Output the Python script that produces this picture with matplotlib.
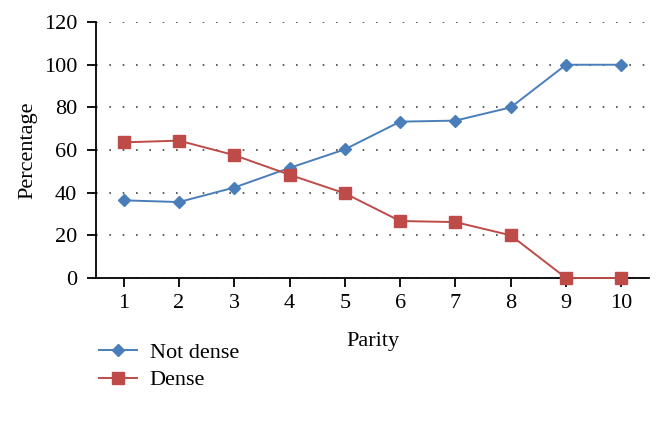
import numpy as np
import matplotlib
matplotlib.use("Agg")
import matplotlib.pyplot as plt

parity = [1, 2, 3, 4, 5, 6, 7, 8, 9, 10]
not_dense = [36.4, 35.6, 42.4, 51.6, 60.3, 73.3, 73.8, 80.0, 100.0, 100.0]
dense = [63.6, 64.4, 57.6, 48.4, 39.7, 26.7, 26.2, 20.0, 0.0, 0.0]

plt.rcParams['font.family'] = ['Liberation Serif', 'DejaVu Serif']

fig = plt.figure(figsize=(6.63, 4.25), dpi=100)
ax = fig.add_axes([0.1448, 0.346, 0.834, 0.602])

blue = '#4A7EBB'
red = '#BE4B48'
l1, = ax.plot(parity, not_dense, color=blue, marker='D', markersize=6.5, lw=1.4, label='Not dense', clip_on=False, zorder=3)
l2, = ax.plot(parity, dense, color=red, marker='s', markersize=8, lw=1.4, label='Dense', clip_on=False, zorder=3)

ax.set_xlim(0.5, 10.5)
ax.set_ylim(0, 120)
ax.set_yticks(np.arange(0, 121, 20))
ax.set_xticks(parity)
ax.yaxis.grid(True, linestyle=(0, (1, 7)), color='#444444', lw=1.2)
ax.set_axisbelow(True)

for s in ['top', 'right']:
    ax.spines[s].set_visible(False)
ax.spines['left'].set_linewidth(1.3)
ax.spines['bottom'].set_linewidth(1.3)
ax.tick_params(direction='out', length=6.5, width=1.3, labelsize=16)
ax.tick_params(axis='y', pad=7)
ax.tick_params(axis='x', pad=5)

ax.set_xlabel('Parity', fontsize=16, labelpad=14)
ax.set_ylabel('Percentage', fontsize=16, labelpad=5)

fig.legend(handles=[l1, l2], loc='upper left', bbox_to_anchor=(0.1355, 0.215),
           frameon=False, fontsize=16, handlelength=1.7, handletextpad=0.6,
           labelspacing=0.3, borderaxespad=0)

fig.savefig('out.png', dpi=100)
